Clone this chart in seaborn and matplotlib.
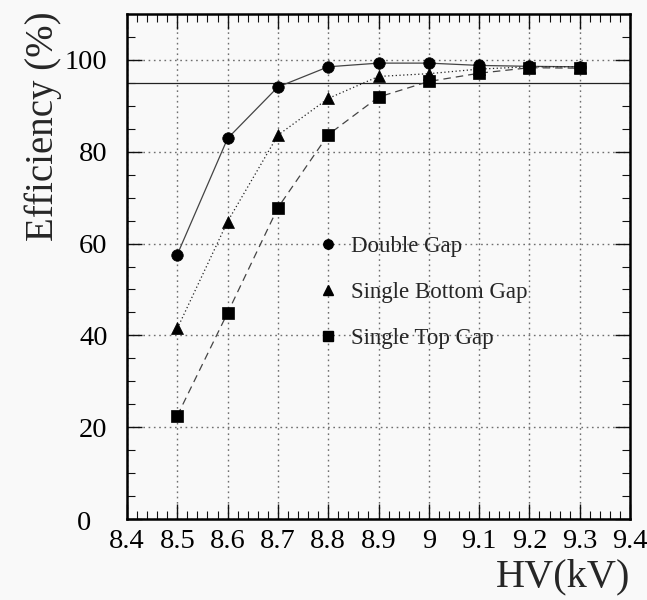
import numpy as np
import pandas as pd
import matplotlib
matplotlib.use("Agg")
import matplotlib.pyplot as plt
import matplotlib.transforms as mtransforms
from matplotlib.lines import Line2D
from matplotlib.ticker import MultipleLocator, FixedLocator
import seaborn as sns

# ---- data ----
hv_kv = [8.5, 8.6, 8.7, 8.8, 8.9, 9.0, 9.1, 9.2, 9.3]
double_gap = [57.6, 82.9, 94.1, 98.5, 99.3, 99.3, 98.8, 98.6, 98.5]
single_bottom_gap = [41.5, 64.8, 83.6, 91.6, 96.4, 97.0, 98.0, 98.5, 98.5]
single_top_gap = [22.5, 44.9, 67.8, 83.7, 91.9, 95.3, 97.1, 98.3, 98.2]
series_names = ["Double Gap", "Single Bottom Gap", "Single Top Gap"]
x_ticks = [8.4, 8.5, 8.6, 8.7, 8.8, 8.9, 9.0, 9.1, 9.2, 9.3, 9.4]
x_tick_labels = ["8.4", "8.5", "8.6", "8.7", "8.8", "8.9", "9", "9.1", "9.2", "9.3", "9.4"]
y_ticks = [0, 20, 40, 60, 80, 100]
threshold = 95
legend_anchor = (8.8, 50)

sns.set_theme(style="ticks")
bg = "#f9f9f9"
plt.rcParams["font.family"] = ["Liberation Serif", "DejaVu Serif"]
plt.rcParams["mathtext.fontset"] = "stix"

fig = plt.figure(figsize=(6.47, 6.0), dpi=100, facecolor=bg)
ax = fig.add_axes([127 / 647, 1 - 519 / 600, (630 - 127) / 647, (519 - 14) / 600])
ax.set_facecolor(bg)

df = pd.DataFrame({
    "hv": hv_kv * 3,
    "eff": double_gap + single_bottom_gap + single_top_gap,
    "series": sum([[n] * len(hv_kv) for n in series_names], []),
})

styles = {
    "Double Gap": dict(marker="o", ms=8.3, ls="-", color="#444444"),
    "Single Bottom Gap": dict(marker="^", ms=8.3, ls=(0, (1.0, 2.0)), color="#222222"),
    "Single Top Gap": dict(marker="s", ms=8, ls=(0, (6, 4)), color="#444444"),
}

for name in series_names:
    st = styles[name]
    sub = df[df["series"] == name]
    sns.lineplot(data=sub, x="hv", y="eff", ax=ax, color=st["color"],
                 linestyle=st["ls"], linewidth=0.9, marker=st["marker"],
                 markersize=st["ms"], markerfacecolor="black",
                 markeredgecolor="black", markeredgewidth=0.5, zorder=3)

# threshold line
ax.axhline(threshold, color="#222222", lw=0.9, zorder=2)

ax.set_xlim(8.4, 9.4)
ax.set_ylim(0, 110)
ax.xaxis.set_major_locator(FixedLocator(x_ticks))
ax.set_xticklabels(x_tick_labels)
ax.xaxis.set_minor_locator(MultipleLocator(0.02))
ax.yaxis.set_major_locator(FixedLocator(y_ticks))
ax.yaxis.set_minor_locator(MultipleLocator(5))

ax.grid(True, which="major", color="#6f6f6f", linestyle=(0, (1.2, 2.6)), linewidth=1.0, zorder=1)
ax.set_axisbelow(True)

ax.tick_params(axis="both", which="both", direction="in", top=True, right=True,
               colors="#111111", labelcolor="black")
ax.tick_params(axis="both", which="major", length=11, width=1.0, labelsize=20.5)
ax.tick_params(axis="both", which="minor", length=5.5, width=0.8)
ax.tick_params(axis="y", which="major", pad=14)
ax.tick_params(axis="x", which="major", pad=7)
for sp in ax.spines.values():
    sp.set_linewidth(1.8)
    sp.set_color("black")

# ROOT-style: the zero label sits left of the origin
fig.canvas.draw()
zero_lbl = ax.get_yticklabels()[0]
zero_lbl.set_transform(zero_lbl.get_transform() +
                       mtransforms.ScaledTranslation(-12 / 72, -1 / 72, fig.dpi_scale_trans))

ax.set_xlabel("HV(kV)", fontsize=29, loc="right")
ax.xaxis.set_label_coords(1.0, -0.078)
ax.set_ylabel("Efficiency (%)", fontsize=28, loc="top")
ax.yaxis.set_label_coords(-0.13, 1.005)

# legend
fs = 16.5
handlelength = 0.8
handles = [Line2D([], [], linestyle="none", marker=styles[n]["marker"], markersize=6.8,
                  color="black") for n in series_names]
offset = mtransforms.offset_copy(ax.transData, fig=fig, x=-handlelength * fs / 2, y=-2.2,
                                 units="points")
leg = ax.legend(handles, series_names, loc="center left", bbox_to_anchor=legend_anchor,
                bbox_transform=offset, frameon=False, fontsize=fs, borderpad=0,
                borderaxespad=0, handlelength=handlelength, handletextpad=0.6,
                labelspacing=1.1)

fig.savefig("out.png", dpi=100, facecolor=bg)
